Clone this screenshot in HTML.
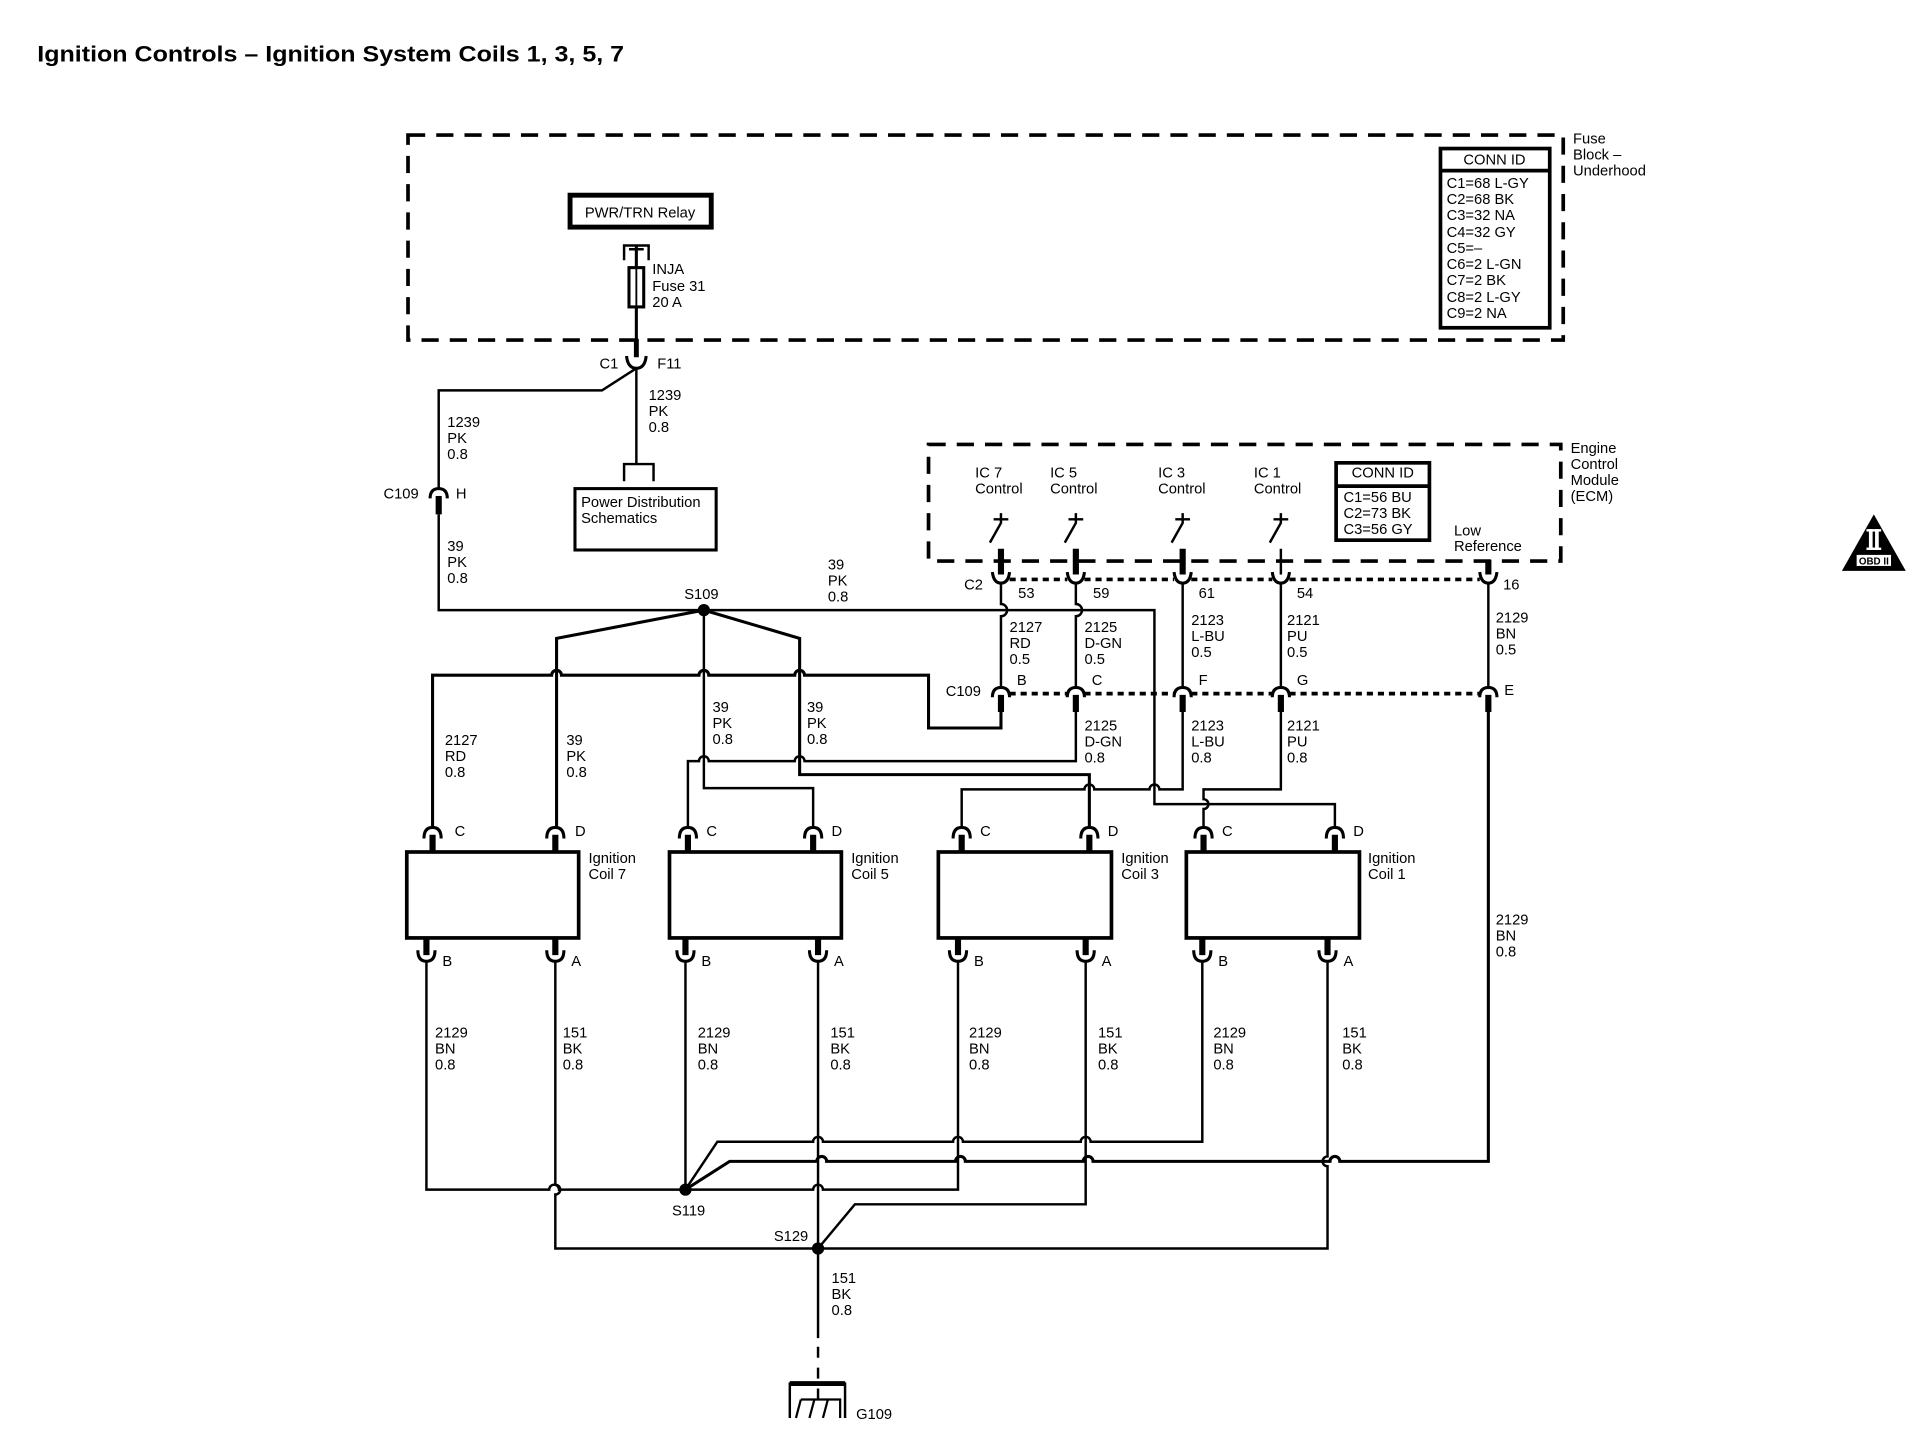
<!DOCTYPE html>
<html><head><meta charset="utf-8"><style>
html,body{margin:0;padding:0;background:#fff;}
svg{display:block}
text{font-family:"Liberation Sans Narrow","Liberation Sans",sans-serif;font-size:12px;fill:#000}
.b{font-weight:bold}
</style></head><body>
<svg width="1916" height="1456" viewBox="0 0 1560 1186" xmlns="http://www.w3.org/2000/svg">
<rect width="1560" height="1186" fill="#fff"/>
<text x="30" y="50" textLength="478" lengthAdjust="spacingAndGlyphs" style="font-family:'Liberation Sans',sans-serif;font-size:18px;font-weight:bold">Ignition Controls – Ignition System Coils 1, 3, 5, 7</text>

<g fill="none" stroke="#000">
<rect x="332" y="110" width="941" height="167" stroke-width="3" stroke-dasharray="14 9"/>
<rect x="756" y="362" width="515" height="95" stroke-width="3" stroke-dasharray="14 9"/>
<rect x="1173" y="121" width="89" height="146" stroke-width="3"/>
<line x1="1173" y1="139" x2="1262" y2="139" stroke-width="3"/>
<rect x="1088" y="377" width="76" height="63" stroke-width="3"/>
<line x1="1088" y1="396" x2="1164" y2="396" stroke-width="3"/>
<rect x="464" y="159" width="115" height="26" stroke-width="4"/>
<path d="M508 212 V200 H528 V212 M512 203 H524" stroke-width="2"/>
<rect x="512" y="218" width="12" height="32" stroke-width="2.5"/>
<line x1="518" y1="218" x2="518" y2="250" stroke-width="1.5"/>
<path d="M518 200 V218 M518 250 V288" stroke-width="2.5"/>
<path d="M518 276 V291" stroke-width="4"/>
<path d="M510 290 Q511 300 518 300 Q525 300 526 290" stroke-width="2.5"/>
<path d="M518 300 V378 M508 392 V378 H532 V392" stroke-width="2"/>
<rect x="468" y="398" width="115" height="50" stroke-width="2.5"/>
<path d="M518 300 L490 318 H357 V398" stroke-width="2"/>
<path d="M350 406 Q350 398 357 398 Q364 398 364 406" stroke-width="2.5"/>
<path d="M357 404 V419" stroke-width="5"/>
<path d="M357 419 V497 H940 V655 H1087 V673" stroke-width="2"/>
<path d="M573 497 L453 520 V673" stroke-width="2.5"/>
<path d="M573 497 L651 520 V631 H887 V673" stroke-width="2.5"/>
<path d="M573 497 V642 H662 V673" stroke-width="2"/>
<g stroke-width="2">
<path d="M809 423 H821 M815 418 V426 L806 442"/>
<path d="M870 423 H882 M876 418 V426 L867 442"/>
<path d="M957 423 H969 M963 418 V426 L954 442"/>
<path d="M1037 423 H1049 M1043 418 V426 L1034 442"/>
</g>
<g stroke-width="5">
<path d="M815 447 V468 M876 447 V468 M963 447 V468 M1212 456 V468"/>
</g>
<path d="M1043 447 V468" stroke-width="2"/>
<g stroke-width="2.5">
<path d="M808 466 Q809 475 815 475 Q821 475 822 466 M869 466 Q870 475 876 475 Q882 475 883 466 M956 466 Q957 475 963 475 Q969 475 970 466 M1036 466 Q1037 475 1043 475 Q1049 475 1050 466 M1205 466 Q1206 475 1212 475 Q1218 475 1219 466"/>
</g>
<path d="M822 472 H869 M883 472 H956 M970 472 H1036 M1050 472 H1205" stroke-width="3" stroke-dasharray="5 4"/>
<g stroke-width="2">
<path d="M815 475 V492 A4 4 0 0 1 815 502 V560"/>
<path d="M876 475 V492 A4 4 0 0 1 876 502 V560"/>
<path d="M963 475 V560 M1043 475 V560 M1212 475 V560"/>
</g>
<g stroke-width="2.5">
<path d="M808 568 Q808 560 815 560 Q822 560 822 568 M869 568 Q869 560 876 560 Q883 560 883 568 M956 568 Q956 560 963 560 Q970 560 970 568 M1036 568 Q1036 560 1043 560 Q1050 560 1050 568 M1205 568 Q1205 560 1212 560 Q1219 560 1219 568"/>
</g>
<path d="M822 565 H869 M883 565 H956 M970 565 H1036 M1050 565 H1205" stroke-width="3" stroke-dasharray="5 4"/>
<g stroke-width="5"><path d="M815 566 V580 M876 566 V580 M963 566 V580 M1043 566 V580 M1212 566 V580"/></g>
<path d="M815 575 V593 H756 V550 H655 A4 4 0 0 0 647 550 H577 A4 4 0 0 0 569 550 H457 A4 4 0 0 0 449 550 H352 V673" stroke-width="2.5"/>
<path d="M876 575 V620 H655 A4 4 0 0 0 647 620 H577 A4 4 0 0 0 569 620 H560 V673" stroke-width="2"/>
<path d="M963 575 V643 H944 A4 4 0 0 0 936 643 H891 A4 4 0 0 0 883 643 H783 V673" stroke-width="2"/>
<path d="M1043 575 V643 H980 V651 A4 4 0 0 1 980 659 V673" stroke-width="2"/>
<path d="M1212 575 V946 H1091 A4 4 0 0 0 1083 946 H890 A4 4 0 0 0 882 946 H786 A4 4 0 0 0 778 946 H673 A4 4 0 0 0 665 946 H594 L558 969" stroke-width="2.5"/>
<g stroke-width="3">
<rect x="331" y="694" width="140" height="70"/>
<rect x="545" y="694" width="140" height="70"/>
<rect x="764" y="694" width="141" height="70"/>
<rect x="966" y="694" width="141" height="70"/>
</g>
<g stroke-width="2.5">
<path d="M345 683 Q345 674 352 674 Q359 674 359 683 M445 683 Q445 674 452 674 Q459 674 459 683 M553 683 Q553 674 560 674 Q567 674 567 683 M655 683 Q655 674 662 674 Q669 674 669 683 M776 683 Q776 674 783 674 Q790 674 790 683 M880 683 Q880 674 887 674 Q894 674 894 683 M973 683 Q973 674 980 674 Q987 674 987 683 M1080 683 Q1080 674 1087 674 Q1094 674 1094 683"/>
<path d="M340 774 Q340 783 347 783 Q354 783 354 774 M445 774 Q445 783 452 783 Q459 783 459 774 M551 774 Q551 783 558 783 Q565 783 565 774 M659 774 Q659 783 666 783 Q673 783 673 774 M773 774 Q773 783 780 783 Q787 783 787 774 M877 774 Q877 783 884 783 Q891 783 891 774 M972 774 Q972 783 979 783 Q986 783 986 774 M1074 774 Q1074 783 1081 783 Q1088 783 1088 774"/>
</g>
<g stroke-width="5">
<path d="M352 680 V694 M452 680 V694 M560 680 V694 M662 680 V694 M783 680 V694 M887 680 V694 M980 680 V694 M1087 680 V694"/>
<path d="M347 764 V778 M452 764 V778 M558 764 V778 M666 764 V778 M780 764 V778 M884 764 V778 M979 764 V778 M1081 764 V778"/>
</g>
<g stroke-width="2">
<path d="M347 783 V969 H447 A4 4 0 0 1 455 969 H662 A4 4 0 0 1 670 969 H780 V783"/>
<path d="M558 783 V969"/>
<path d="M558 969 L584 930 H662 A4 4 0 0 1 670 930 H776 A4 4 0 0 1 784 930 H880 A4 4 0 0 1 888 930 H979 V783"/>
<path d="M452 783 V965 A4 4 0 0 1 452 973 V1017 H1081 V950 A4 4 0 0 1 1081 942 V783"/>
<path d="M666 783 V1090"/>
<path d="M666 1017 L696 981 H884 V783"/>
<path d="M666 1097 V1140" stroke-dasharray="9 8"/>
<path d="M643 1155 V1127 H688 V1155" stroke-width="2"/>
<path d="M643 1127 H688" stroke-width="4"/>
<path d="M652 1140 L648 1155 M663 1140 L659 1155 M674 1140 L670 1155 M652 1140 H684 V1155" stroke-width="1.8"/>
</g>
<path d="M1526 419 L1552 465 H1500 Z" fill="#000" stroke="none"/>
</g>
<rect x="1512" y="452" width="28" height="9" fill="#fff"/>
<text x="1526" y="460" text-anchor="middle" style="font-size:8px;font-weight:bold">OBD II</text>
<rect x="1520" y="431" width="12" height="2" fill="#fff"/><rect x="1520" y="446" width="12" height="2" fill="#fff"/>
<rect x="1522" y="431" width="3" height="17" fill="#fff"/><rect x="1527" y="431" width="3" height="17" fill="#fff"/>

<g fill="#000">
<circle cx="573" cy="497" r="5"/>
<circle cx="558" cy="969" r="5"/>
<circle cx="666" cy="1017" r="5"/>
</g>

<g>
<text x="1281" y="117">Fuse</text><text x="1281" y="130">Block –</text><text x="1281" y="143">Underhood</text>
<text x="1217" y="134" text-anchor="middle">CONN ID</text>
<text x="1178" y="153">C1=68 L-GY</text><text x="1178" y="166">C2=68 BK</text><text x="1178" y="179">C3=32 NA</text>
<text x="1178" y="193">C4=32 GY</text><text x="1178" y="206">C5=–</text><text x="1178" y="219">C6=2 L-GN</text>
<text x="1178" y="232">C7=2 BK</text><text x="1178" y="246">C8=2 L-GY</text><text x="1178" y="259">C9=2 NA</text>
<text x="521" y="177" text-anchor="middle">PWR/TRN Relay</text>
<text x="531" y="223">INJA</text><text x="531" y="237">Fuse 31</text><text x="531" y="250">20 A</text>
<text x="488" y="300">C1</text><text x="535" y="300">F11</text>
<text x="528" y="326">1239</text><text x="528" y="339">PK</text><text x="528" y="352">0.8</text>
<text x="364" y="348">1239</text><text x="364" y="361">PK</text><text x="364" y="374">0.8</text>
<text x="312" y="406">C109</text><text x="371" y="406">H</text>
<text x="473" y="413">Power Distribution</text><text x="473" y="426">Schematics</text>
<text x="364" y="449">39</text><text x="364" y="462">PK</text><text x="364" y="475">0.8</text>
<text x="674" y="464">39</text><text x="674" y="477">PK</text><text x="674" y="490">0.8</text>
<text x="557" y="488">S109</text>
<text x="1279" y="369">Engine</text><text x="1279" y="382">Control</text><text x="1279" y="395">Module</text><text x="1279" y="408">(ECM)</text>
<text x="794" y="389">IC 7</text><text x="794" y="402">Control</text>
<text x="855" y="389">IC 5</text><text x="855" y="402">Control</text>
<text x="943" y="389">IC 3</text><text x="943" y="402">Control</text>
<text x="1021" y="389">IC 1</text><text x="1021" y="402">Control</text>
<text x="1126" y="389" text-anchor="middle">CONN ID</text>
<text x="1094" y="409">C1=56 BU</text><text x="1094" y="422">C2=73 BK</text><text x="1094" y="435">C3=56 GY</text>
<text x="1184" y="436">Low</text><text x="1184" y="449">Reference</text>
<text x="785" y="480">C2</text>
<text x="829" y="487">53</text><text x="890" y="487">59</text><text x="976" y="487">61</text><text x="1056" y="487">54</text><text x="1224" y="480">16</text>
<text x="822" y="515">2127</text><text x="822" y="528">RD</text><text x="822" y="541">0.5</text>
<text x="883" y="515">2125</text><text x="883" y="528">D-GN</text><text x="883" y="541">0.5</text>
<text x="970" y="509">2123</text><text x="970" y="522">L-BU</text><text x="970" y="535">0.5</text>
<text x="1048" y="509">2121</text><text x="1048" y="522">PU</text><text x="1048" y="535">0.5</text>
<text x="1218" y="507">2129</text><text x="1218" y="520">BN</text><text x="1218" y="533">0.5</text>
<text x="770" y="567">C109</text>
<text x="828" y="558">B</text><text x="889" y="558">C</text><text x="976" y="558">F</text><text x="1056" y="558">G</text><text x="1225" y="566">E</text>
<text x="580" y="580">39</text><text x="580" y="593">PK</text><text x="580" y="606">0.8</text>
<text x="657" y="580">39</text><text x="657" y="593">PK</text><text x="657" y="606">0.8</text>
<text x="362" y="607">2127</text><text x="362" y="620">RD</text><text x="362" y="633">0.8</text>
<text x="461" y="607">39</text><text x="461" y="620">PK</text><text x="461" y="633">0.8</text>
<text x="883" y="595">2125</text><text x="883" y="608">D-GN</text><text x="883" y="621">0.8</text>
<text x="970" y="595">2123</text><text x="970" y="608">L-BU</text><text x="970" y="621">0.8</text>
<text x="1048" y="595">2121</text><text x="1048" y="608">PU</text><text x="1048" y="621">0.8</text>
<text x="370" y="681">C</text><text x="468" y="681">D</text><text x="575" y="681">C</text><text x="677" y="681">D</text>
<text x="798" y="681">C</text><text x="902" y="681">D</text><text x="995" y="681">C</text><text x="1102" y="681">D</text>
<text x="479" y="703">Ignition</text><text x="479" y="716">Coil 7</text>
<text x="693" y="703">Ignition</text><text x="693" y="716">Coil 5</text>
<text x="913" y="703">Ignition</text><text x="913" y="716">Coil 3</text>
<text x="1114" y="703">Ignition</text><text x="1114" y="716">Coil 1</text>
<text x="360" y="787">B</text><text x="465" y="787">A</text><text x="571" y="787">B</text><text x="679" y="787">A</text>
<text x="793" y="787">B</text><text x="897" y="787">A</text><text x="992" y="787">B</text><text x="1094" y="787">A</text>
<text x="1218" y="753">2129</text><text x="1218" y="766">BN</text><text x="1218" y="779">0.8</text>
<text x="354" y="845">2129</text><text x="354" y="858">BN</text><text x="354" y="871">0.8</text>
<text x="458" y="845">151</text><text x="458" y="858">BK</text><text x="458" y="871">0.8</text>
<text x="568" y="845">2129</text><text x="568" y="858">BN</text><text x="568" y="871">0.8</text>
<text x="676" y="845">151</text><text x="676" y="858">BK</text><text x="676" y="871">0.8</text>
<text x="789" y="845">2129</text><text x="789" y="858">BN</text><text x="789" y="871">0.8</text>
<text x="894" y="845">151</text><text x="894" y="858">BK</text><text x="894" y="871">0.8</text>
<text x="988" y="845">2129</text><text x="988" y="858">BN</text><text x="988" y="871">0.8</text>
<text x="1093" y="845">151</text><text x="1093" y="858">BK</text><text x="1093" y="871">0.8</text>
<text x="547" y="990">S119</text>
<text x="630" y="1011">S129</text>
<text x="677" y="1045">151</text><text x="677" y="1058">BK</text><text x="677" y="1071">0.8</text>
<text x="697" y="1156">G109</text>
</g>
</svg>
</body></html>
